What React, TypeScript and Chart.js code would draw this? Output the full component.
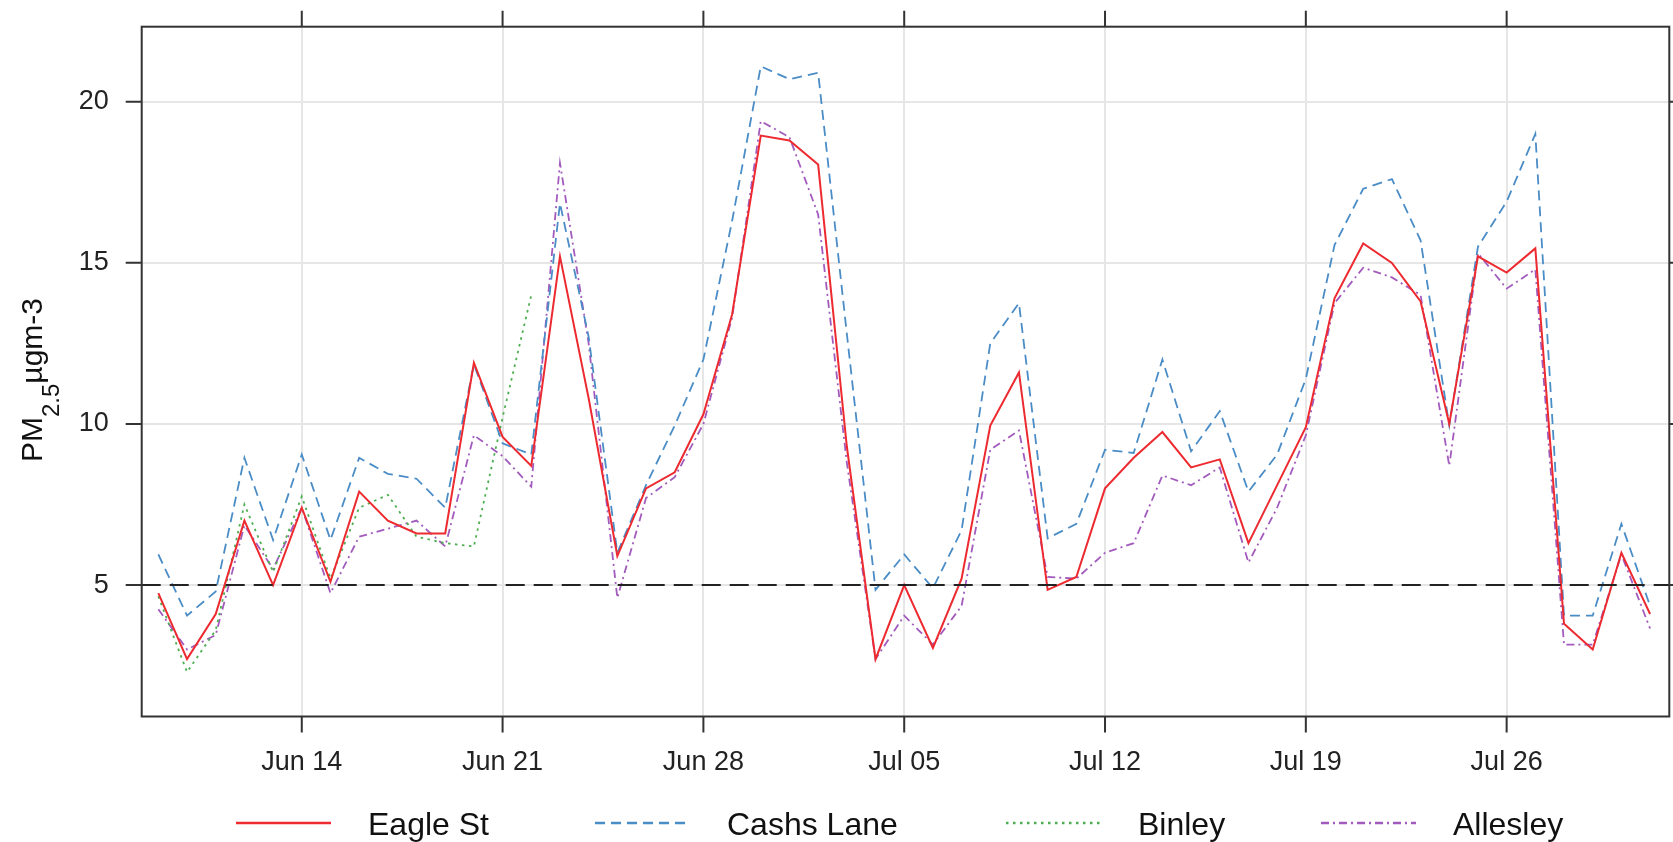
import React, { useEffect, useRef } from 'react';
import { Chart, registerables } from 'chart.js';

Chart.register(...registerables);

// Day offsets counted from Jun 09 (first observation) to Jul 31
const DAY_INDEX = Array.from({ length: 53 }, (_, i) => i);
const X_TICK_DAYS = [5, 12, 19, 26, 33, 40, 47];
const X_TICK_LABELS = ['Jun 14', 'Jun 21', 'Jun 28', 'Jul 05', 'Jul 12', 'Jul 19', 'Jul 26'];
const Y_TICKS = [5, 10, 15, 20];
const LIMIT_VALUE = 5;
const SERIES_NAMES = ['Eagle St', 'Cashs Lane', 'Binley', 'Allesley'];

const EAGLE_ST = [
  4.75, 2.7, 4.1, 7.0, 5.0, 7.4, 5.1, 7.9, 7.0, 6.6,
  6.6, 11.9, 9.6, 8.7, 15.2, 10.8, 5.9, 8.0, 8.5, 10.3,
  13.4, 18.95, 18.8, 18.05, 9.3, 2.7, 5.0, 3.05, 5.2, 9.95,
  11.6, 4.85, 5.25, 8.0, 8.95, 9.75, 8.65, 8.9, 6.3, 8.1,
  9.9, 13.9, 15.6, 15.0, 13.8, 10.0, 15.2, 14.7, 15.45, 3.8,
  3.0, 6.0, 4.1,
];
const CASHS_LANE = [
  5.95, 4.05, 4.8, 8.95, 6.4, 9.05, 6.4, 8.95, 8.45, 8.3,
  7.4, 11.85, 9.4, 9.05, 16.85, 12.7, 6.0, 8.1, 9.95, 12.0,
  16.3, 21.1, 20.7, 20.9, 12.8, 4.85, 5.95, 4.9, 6.7, 12.5,
  13.75, 6.45, 6.9, 9.2, 9.1, 12.0, 9.15, 10.4, 7.9, 9.05,
  11.4, 15.55, 17.3, 17.6, 15.7, 9.95, 15.5, 16.9, 19.0, 4.05,
  4.05, 6.9, 4.35,
];
const BINLEY = [
  4.65, 2.3, 3.6, 7.5, 5.4, 7.75, 5.2, 7.4, 7.8, 6.5,
  6.3, 6.2, 10.2, 14.0, null, null, null, null, null, null,
  null, null, null, null, null, null, null, null, null, null,
  null, null, null, null, null, null, null, null, null, null,
  null, null, null, null, null, null, null, null, null, null,
  null, null, null,
];
const ALLESLEY = [
  4.25, 3.0, 3.45, 6.85, 5.5, 7.4, 4.75, 6.5, 6.75, 7.0,
  6.2, 9.65, 9.0, 8.05, 18.1, 12.5, 4.6, 7.7, 8.35, 10.0,
  13.3, 19.4, 18.9, 16.5, 8.8, 2.7, 4.05, 3.15, 4.35, 9.2,
  9.8, 5.25, 5.2, 6.0, 6.3, 8.4, 8.1, 8.65, 5.7, 7.4,
  9.65, 13.75, 14.85, 14.55, 14.0, 8.7, 15.3, 14.2, 14.8, 3.15,
  3.15, 5.95, 3.65,
];

const FONT = '"Liberation Sans", Arial, sans-serif';
const COLORS = ['#ec2a30', '#4a8cc6', '#4cae50', '#a25bbd'];
const DASHES: number[][] = [[], [10, 6], [2.5, 4.5], [8, 4, 2, 4]];
const LEGEND_X = [236, 595, 1006, 1321];

const W = 1673;
const H = 842;

const framePlugin = {
  id: 'framePlugin',
  afterDatasetsDraw(chart: any) {
    const { ctx, chartArea } = chart;
    const xs = chart.scales.x;
    const ys = chart.scales.y;
    const { left, right, top, bottom } = chartArea;
    ctx.save();
    // reference line
    const y5 = ys.getPixelForValue(LIMIT_VALUE);
    ctx.strokeStyle = '#222';
    ctx.lineWidth = 2;
    ctx.setLineDash([19, 9]);
    ctx.beginPath();
    ctx.moveTo(left, y5);
    ctx.lineTo(right, y5);
    ctx.stroke();
    ctx.setLineDash([]);
    // box
    ctx.strokeStyle = '#333';
    ctx.lineWidth = 2;
    ctx.strokeRect(left, top, right - left, bottom - top);
    // ticks on all sides
    const tl = 16;
    ctx.beginPath();
    X_TICK_DAYS.forEach((d) => {
      const px = xs.getPixelForValue(d);
      ctx.moveTo(px, bottom);
      ctx.lineTo(px, bottom + tl);
      ctx.moveTo(px, top);
      ctx.lineTo(px, top - tl);
    });
    Y_TICKS.forEach((v) => {
      const py = ys.getPixelForValue(v);
      ctx.moveTo(left, py);
      ctx.lineTo(left - tl, py);
      ctx.moveTo(right, py);
      ctx.lineTo(right + tl, py);
    });
    ctx.stroke();

    // y axis title with subscript
    ctx.fillStyle = '#111';
    ctx.translate(42, 462);
    ctx.rotate(-Math.PI / 2);
    ctx.textBaseline = 'alphabetic';
    ctx.textAlign = 'left';
    let x = 0;
    ctx.font = `30px ${FONT}`;
    ctx.fillText('PM', x, 0);
    x += ctx.measureText('PM').width;
    ctx.font = `24px ${FONT}`;
    ctx.fillText('2.5', x, 17);
    x += ctx.measureText('2.5').width;
    ctx.font = `30px ${FONT}`;
    ctx.fillText('\u00b5gm-3', x, 0);
    ctx.restore();

    // legend
    ctx.save();
    const ly = 823;
    SERIES_NAMES.forEach((name, i) => {
      const lx = LEGEND_X[i];
      ctx.strokeStyle = COLORS[i];
      ctx.lineWidth = 2.5;
      ctx.setLineDash(DASHES[i]);
      ctx.beginPath();
      ctx.moveTo(lx, ly);
      ctx.lineTo(lx + 95, ly);
      ctx.stroke();
      ctx.setLineDash([]);
      ctx.fillStyle = '#111';
      ctx.font = `32px ${FONT}`;
      ctx.textBaseline = 'alphabetic';
      ctx.textAlign = 'left';
      ctx.fillText(name, lx + 132, 835);
    });
    ctx.restore();
  },
};

export default function App() {
  const canvasRef = useRef<HTMLCanvasElement | null>(null);

  useEffect(() => {
    if (!canvasRef.current) return;
    const seriesValues = [EAGLE_ST, CASHS_LANE, BINLEY, ALLESLEY];
    const chart = new Chart(canvasRef.current, {
      type: 'line',
      data: {
        datasets: SERIES_NAMES.map((name, i) => ({
          label: name,
          data: seriesValues[i].map((v, j) => ({ x: DAY_INDEX[j], y: v })),
          borderColor: COLORS[i],
          backgroundColor: COLORS[i],
          borderWidth: i === 0 ? 2 : 1.8,
          borderDash: DASHES[i],
          pointRadius: 0,
          tension: 0,
          fill: false,
          spanGaps: false,
        })),
      },
      options: {
        responsive: false,
        animation: false,
        devicePixelRatio: 1,
        layout: { padding: { left: 0, top: 26.7, right: 3.7, bottom: 0 } },
        plugins: {
          legend: { display: false },
          title: { display: false },
          tooltip: { enabled: false },
        },
        scales: {
          x: {
            type: 'linear',
            min: -0.58,
            max: 52.67,
            afterBuildTicks: (axis: any) => {
              axis.ticks = X_TICK_DAYS.map((v) => ({ value: v }));
            },
            afterFit: (axis: any) => {
              axis.height = 125.5;
            },
            ticks: {
              autoSkip: false,
              maxRotation: 0,
              padding: 0,
              color: '#222',
              font: { family: FONT, size: 27 },
              callback: (_v: any, idx: number) => X_TICK_LABELS[idx],
            },
            grid: { color: '#e6e6e6', lineWidth: 2, drawTicks: true, tickLength: 30, tickColor: 'rgba(0,0,0,0)' },
            border: { display: false },
          },
          y: {
            type: 'linear',
            min: 0.92,
            max: 22.33,
            afterBuildTicks: (axis: any) => {
              axis.ticks = Y_TICKS.map((v) => ({ value: v }));
            },
            afterFit: (axis: any) => {
              axis.width = 141.7;
            },
            ticks: {
              padding: 0,
              color: '#222',
              font: { family: FONT, size: 27 },
              callback: (v: any) => String(v),
            },
            grid: { color: '#e6e6e6', lineWidth: 2, drawTicks: true, tickLength: 33, tickColor: 'rgba(0,0,0,0)' },
            border: { display: false },
          },
        },
      },
      plugins: [framePlugin],
    });
    return () => chart.destroy();
  }, []);

  return (
    <div style={{ position: 'absolute', left: 0, top: 0, width: W, height: H, background: '#fff' }}>
      <canvas ref={canvasRef} width={W} height={H} style={{ display: 'block' }} />
    </div>
  );
}
